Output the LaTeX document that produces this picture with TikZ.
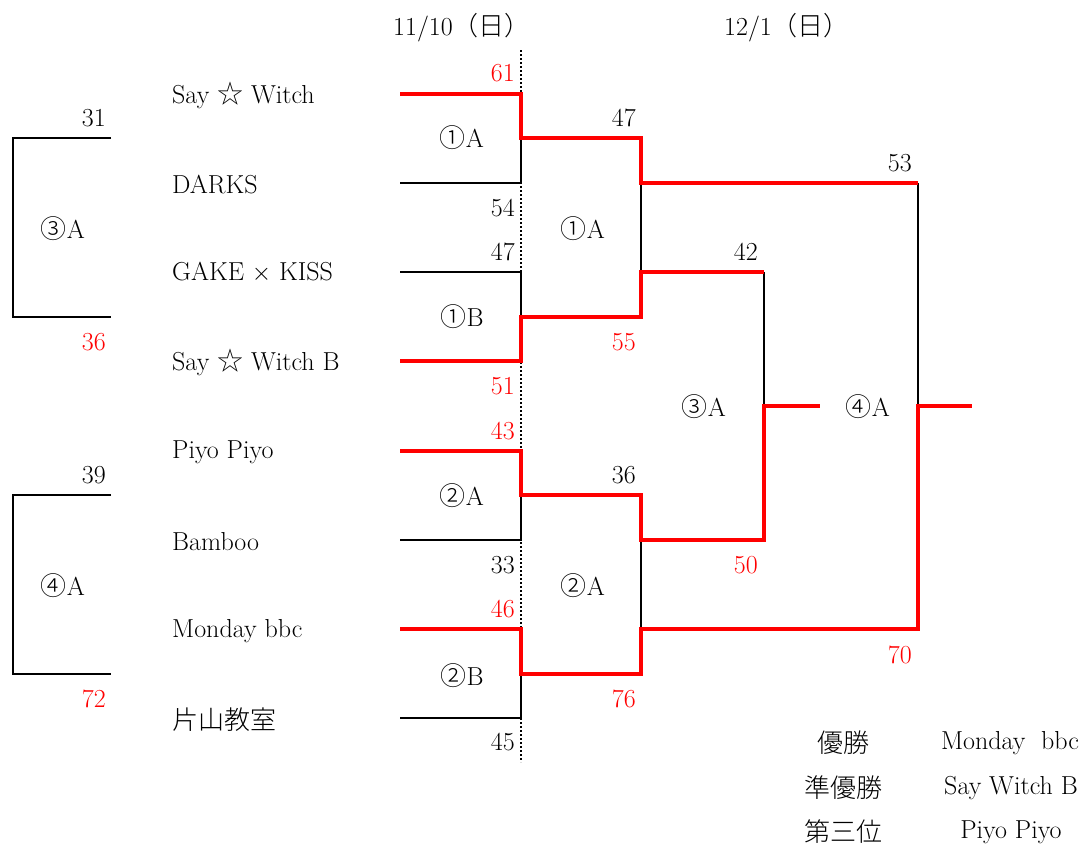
\documentclass[tikz,border=0pt]{standalone}
\usepackage{fontspec}
\newfontfamily\cjk{Noto Sans CJK JP Light}
\newcommand{\cj}[1]{{\cjk #1}}
\begin{document}
\begin{tikzpicture}[x=1pt,y=-1pt,
  win/.style={draw=red,line width=4pt,line join=miter},
  lose/.style={draw=black,line width=1.8pt},
  txt/.style={inner sep=0pt,font=\fontsize{26}{30}\selectfont},
  team/.style={txt,anchor=west},
  sc/.style={txt,anchor=east},
  scr/.style={sc,text=red},
  sumtxt/.style={txt}]
\useasboundingbox (0,0) rectangle (1088,846);
% dates
\node[txt] (d1) at (462,28) {11/10\cj{（日）}};
\node[txt] (d2) at (787,28) {12/1\cj{（日）}};
% dotted separator
\coordinate (dtop) at (521,50);
\coordinate (dbot) at (521,762);
\draw[line width=2pt,dash pattern=on 2pt off 2pt] (dtop) -- (dbot);
% left brackets
\draw[lose] (111,138) -- (13,138) -- (13,317) -- (111,317);
\draw[lose] (111,495) -- (13,495) -- (13,674) -- (111,674);
\node[sc] (l31) at (106,118) {31};
\node[scr] (l36) at (106,342) {36};
\node[txt] (l3A) at (63,229) {\cj{③}A};
\node[sc] (l39) at (106,475) {39};
\node[scr] (l72) at (106,699) {72};
\node[txt] (l4A) at (63,586) {\cj{④}A};
% teams
\node[team] (t1) at (172,95) {Say \cj{☆} Witch};
\node[team] (t2) at (172,185) {DARKS};
\node[team] (t3) at (172,272) {GAKE $\times$ KISS};
\node[team] (t4) at (172,362) {Say \cj{☆} Witch B};
\node[team] (t5) at (172,452) {Piyo Piyo};
\node[team] (t6) at (172,542) {Bamboo};
\node[team] (t7) at (172,631) {Monday bbc};
\node[team] (t8) at (172,720) {\cj{片山教室}};
% black lines
\draw[lose] (400,183) -- (521,183) -- (521,138);
\draw[lose] (400,272) -- (521,272) -- (521,317);
\draw[lose] (400,540) -- (521,540) -- (521,495);
\draw[lose] (400,718) -- (521,718) -- (521,674);
\draw[lose] (641,183) -- (641,272);
\draw[lose] (641,540) -- (641,629);
\draw[lose] (764,272) -- (764,406);
\draw[lose] (918,183) -- (918,406);
% red lines
\draw[win] (400,94) -- (521,94) -- (521,138) -- (641,138) -- (641,183) -- (918,183);
\draw[win] (400,361) -- (521,361) -- (521,317) -- (641,317) -- (641,272) -- (764,272);
\draw[win] (400,451) -- (521,451) -- (521,495) -- (641,495) -- (641,540) -- (764,540) -- (764,406) -- (820,406);
\draw[win] (400,629) -- (521,629) -- (521,674) -- (641,674) -- (641,629) -- (918,629) -- (918,406) -- (972,406);
% round 1 labels
\node[scr] (s61) at (515,73) {61};
\node[sc] (s54) at (515,208) {54};
\node[txt] (m1A) at (462,138) {\cj{①}A};
\node[sc] (s47) at (515,252) {47};
\node[scr] (s51) at (515,386) {51};
\node[txt] (m1B) at (462,317) {\cj{①}B};
\node[scr] (s43) at (515,431) {43};
\node[sc] (s33) at (515,565) {33};
\node[txt] (m2A) at (462,496) {\cj{②}A};
\node[scr] (s46) at (515,609) {46};
\node[sc] (s45) at (515,742) {45};
\node[txt] (m2B) at (462,676) {\cj{②}B};
% round 2 labels
\node[sc] (r47) at (636,118) {47};
\node[scr] (r55) at (636,342) {55};
\node[txt] (n1A) at (583,229) {\cj{①}A};
\node[sc] (r36) at (636,475) {36};
\node[scr] (r76) at (636,699) {76};
\node[txt] (n2A) at (583,586) {\cj{②}A};
\node[sc] (r42) at (758,252) {42};
\node[scr] (r50) at (758,565) {50};
\node[sc] (r53) at (912,163) {53};
\node[scr] (r70) at (912,655) {70};
\node[txt] (n3A) at (704,407) {\cj{③}A};
\node[txt] (n4A) at (868,407) {\cj{④}A};
% summary
\node[sumtxt] (k1) at (843,743) {\cj{優勝}};
\node[sumtxt] (v1) at (1010,743) {Monday\hspace{0.6em}bbc};
\node[sumtxt] (k2) at (843,788) {\cj{準優勝}};
\node[sumtxt] (v2) at (1011,788) {Say Witch B};
\node[sumtxt] (k3) at (843,832) {\cj{第三位}};
\node[sumtxt] (v3) at (1011,832) {Piyo Piyo};
\end{tikzpicture}
\end{document}
